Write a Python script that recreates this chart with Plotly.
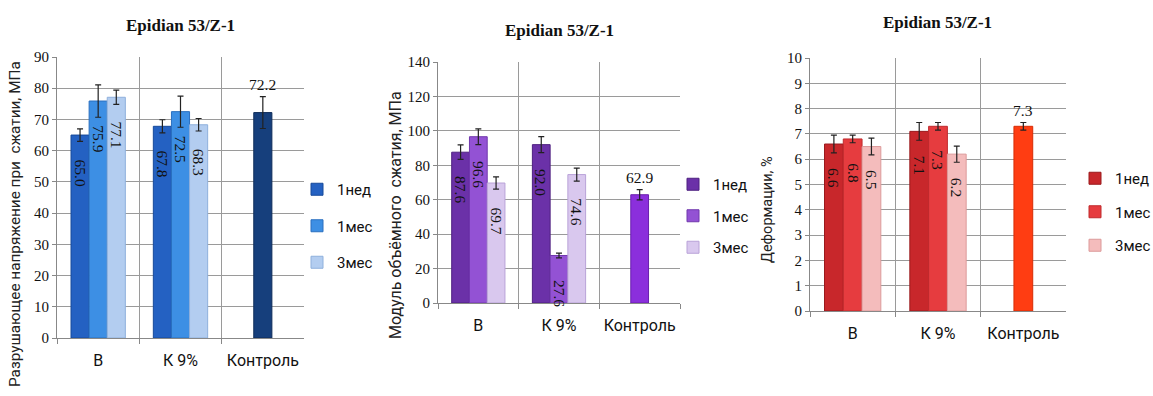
import plotly.graph_objects as go

W, H = 1153, 396

categories = ["В", "К 9%", "Контроль"]
series_names = ["1нед", "1мес", "3мес"]
group_cats = ["В", "К 9%"]

# Panel 1: compressive strength, MPa
p1_1ned = [65.0, 67.8]
p1_1mes = [75.9, 72.5]
p1_3mes = [77.1, 68.3]
p1_err_1ned = [2.0, 2.1]
p1_err_1mes = [5.2, 5.0]
p1_err_3mes = [2.3, 2.0]
p1_control = 72.2
p1_control_err = 5.1

# Panel 2: bulk compression modulus, MPa
p2_1ned = [87.6, 92.0]
p2_1mes = [96.6, 27.6]
p2_3mes = [69.7, 74.6]
p2_err_1ned = [4.2, 4.6]
p2_err_1mes = [4.6, 1.4]
p2_err_3mes = [3.6, 3.8]
p2_control = 62.9
p2_control_err = 3.0

# Panel 3: deformation, %
p3_1ned = [6.6, 7.1]
p3_1mes = [6.8, 7.3]
p3_3mes = [6.5, 6.2]
p3_err_1ned = [0.35, 0.35]
p3_err_1mes = [0.15, 0.15]
p3_err_3mes = [0.33, 0.32]
p3_control = 7.3
p3_control_err = 0.15

titles = ["Epidian 53/Z-1", "Epidian 53/Z-1", "Epidian 53/Z-1"]
y_titles = ["Разрушающее напряжение при  сжатии, МПа",
            "Модуль объёмного  сжатия, МПа",
            "Деформации, %"]

panels = [
    dict(vals=[p1_1ned, p1_1mes, p1_3mes], errs=[p1_err_1ned, p1_err_1mes, p1_err_3mes],
         ctrl=p1_control, ctrl_err=p1_control_err,
         colors=["#2461c2", "#3d8fe4", "#b3cdf0"], ctrl_color="#163f7c",
         lines=["#174a9a", "#2a6fbf", "#8fb0dc"], ctrl_line="#0f2d5a",
         xdom=(57, 304), ydom=(57, 338), yrange=[0, 90], dtick=10,
         legend_x=297, legend_top=173, legend_gap=14,
         title_y=26, ytitle_x=15, ytitle_y=224, ytitle_size=15.3),
    dict(vals=[p2_1ned, p2_1mes, p2_3mes], errs=[p2_err_1ned, p2_err_1mes, p2_err_3mes],
         ctrl=p2_control, ctrl_err=p2_control_err,
         colors=["#6b31a8", "#9352d4", "#d9c8ee"], ctrl_color="#8b2fdc",
         lines=["#4e2080", "#7038ad", "#b9a2d8"], ctrl_line="#6a1fae",
         xdom=(438, 680), ydom=(62, 303), yrange=[0, 140], dtick=20,
         legend_x=673, legend_top=168, legend_gap=9,
         title_y=30, ytitle_x=395, ytitle_y=215, ytitle_size=16),
    dict(vals=[p3_1ned, p3_1mes, p3_3mes], errs=[p3_err_1ned, p3_err_1mes, p3_err_3mes],
         ctrl=p3_control, ctrl_err=p3_control_err,
         colors=["#c8272b", "#e63c3f", "#f4bcbc"], ctrl_color="#ff3d12",
         lines=["#9a1a1d", "#c02a2d", "#dc9a9a"], ctrl_line="#d82c05",
         xdom=(810, 1066), ydom=(58, 311), yrange=[0, 10], dtick=1,
         legend_x=1075, legend_top=162, legend_gap=11,
         title_y=23, ytitle_x=767, ytitle_y=210, ytitle_size=14.5),
]

fig = go.Figure()
annotations = []
BW = 0.22
offsets = [-0.33, -0.11, 0.11]
label_font = dict(family="Liberation Serif", size=15.5, color="#111111")

for i, p in enumerate(panels):
    ax = "" if i == 0 else str(i + 1)
    xref, yref = "x" + ax, "y" + ax
    leg = "legend" if i == 0 else "legend" + str(i + 1)
    cat_px = (p["xdom"][1] - p["xdom"][0]) / 3.0
    for s in range(3):
        fig.add_trace(go.Bar(
            x=group_cats, y=p["vals"][s], name=series_names[s],
            width=BW, offset=offsets[s],
            marker=dict(color=p["colors"][s], line=dict(color=p["lines"][s], width=1)),
            error_y=dict(type="data", array=p["errs"][s], color="#222222", thickness=1.2, width=3),
            xaxis=xref, yaxis=yref, legend=leg, legendgroup=f"{i}-{s}",
            showlegend=True,
        ))
        for c, v in zip(group_cats, p["vals"][s]):
            annotations.append(dict(
                x=c, y=v, xref=xref, yref=yref, text=f"{v:.1f}", textangle=90,
                showarrow=False, xanchor="center", yanchor="top",
                xshift=(offsets[s] + BW / 2) * cat_px, yshift=-22,
                font=label_font,
            ))
    fig.add_trace(go.Bar(
        x=["Контроль"], y=[p["ctrl"]], name="Контроль", width=BW, offset=-BW / 2,
        marker=dict(color=p["ctrl_color"], line=dict(color=p["ctrl_line"], width=1)),
        error_y=dict(type="data", array=[p["ctrl_err"]], color="#222222", thickness=1.2, width=3),
        xaxis=xref, yaxis=yref, showlegend=False,
    ))
    annotations.append(dict(
        x="Контроль", y=p["ctrl"] + p["ctrl_err"], xref=xref, yref=yref,
        text=f"{p['ctrl']:.1f}", showarrow=False, yanchor="bottom", yshift=2,
        font=dict(family="Liberation Serif", size=15.5, color="#111111"),
    ))
    # title
    annotations.append(dict(
        x=(p["xdom"][0] + p["xdom"][1]) / 2 / W, y=1 - p["title_y"] / H,
        xref="paper", yref="paper", text=titles[i], showarrow=False,
        xanchor="center", yanchor="middle",
        font=dict(family="Liberation Serif", size=17, color="#111111", weight="bold"),
    ))
    # y-axis title
    annotations.append(dict(
        x=p["ytitle_x"] / W, y=1 - p["ytitle_y"] / H, xref="paper", yref="paper",
        text=y_titles[i], showarrow=False, textangle=-90,
        xanchor="center", yanchor="middle",
        font=dict(family="Roboto", size=p["ytitle_size"], color="#222222"),
    ))

    xd = [p["xdom"][0] / W, p["xdom"][1] / W]
    yd = [1 - p["ydom"][1] / H, 1 - p["ydom"][0] / H]
    fig.update_layout(**{
        "xaxis" + ax: dict(
            domain=xd, anchor="y" + ax, type="category",
            categoryorder="array", categoryarray=categories,
            range=[-0.5, 2.5], tickson="boundaries", ticks="outside", ticklen=5,
            tickcolor="#888888", showgrid=True, gridcolor="#9a9a9a", gridwidth=1,
            showline=True, linecolor="#888888", linewidth=1, mirror=False,
            tickangle=0, ticklabelstandoff=8,
            tickfont=dict(family="Roboto", size=16, color="#111111"),
            fixedrange=True,
        ),
        "yaxis" + ax: dict(
            domain=yd, anchor="x" + ax, range=p["yrange"], dtick=p["dtick"],
            ticks="outside", ticklen=4, tickcolor="#888888",
            showgrid=True, gridcolor="#9a9a9a", gridwidth=1,
            showline=True, linecolor="#888888", linewidth=1,
            zeroline=False,
            tickfont=dict(family="Liberation Serif", size=15, color="#111111"),
            fixedrange=True,
        ),
        leg: dict(
            x=p["legend_x"] / W, y=1 - p["legend_top"] / H, xanchor="left", yanchor="top",
            bgcolor="rgba(0,0,0,0)", tracegroupgap=p["legend_gap"],
            font=dict(family="Roboto", size=15, color="#111111"),
            itemwidth=30,
        ),
    })

fig.update_layout(
    width=W, height=H, margin=dict(l=0, r=0, t=0, b=0, autoexpand=False),
    paper_bgcolor="white", plot_bgcolor="white",
    barmode="overlay", annotations=annotations,
)

fig.write_html("out.html")
